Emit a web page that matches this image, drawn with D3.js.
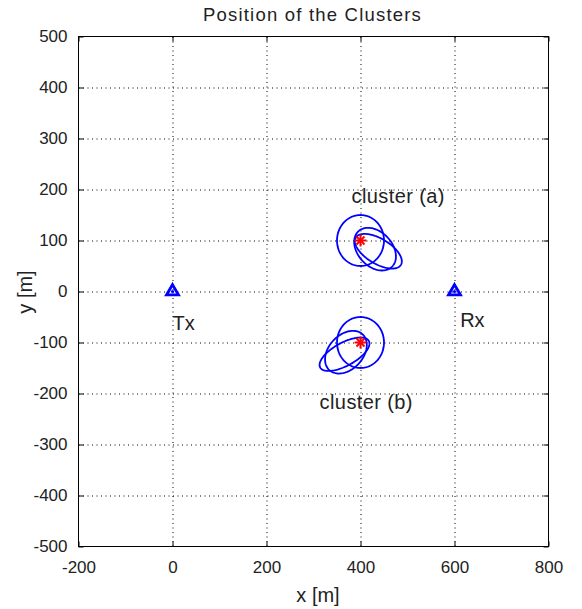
<!DOCTYPE html>
<html>
<head>
<meta charset="utf-8">
<script src="https://cdn.jsdelivr.net/npm/d3@7"></script>
<style>
  html, body { margin: 0; padding: 0; background: #ffffff; }
  svg { display: block; font-family: "Liberation Sans", Arial, sans-serif; }
</style>
</head>
<body>
<div id="chart"></div>
<script>
// ---------- data ----------
const xTicks = [-200, 0, 200, 400, 600, 800];
const yTicks = [500, 400, 300, 200, 100, 0, -100, -200, -300, -400, -500];
const xDomain = [-200, 800];
const yDomain = [-500, 500];

const stationNames = ["Tx", "Rx"];
const stationX = [0, 600];
const stationY = [0, 0];
const stationLabelX = [0, 612];
const stationLabelY = [-76, -69];

const clusterNames = ["cluster (a)", "cluster (b)"];
const clusterX = [400, 400];
const clusterY = [100, -100];
const clusterLabelX = [381, 313];
const clusterLabelY = [173, -230];

// ellipses: centre, semi-axes (data units), rotation (degrees)
const ellipseCx    = [400, 431, 438, 400, 369, 366];
const ellipseCy    = [100,  83,  79, -100, -119, -123];
const ellipseA     = [ 50,  50,  55,  50,  50,  58];
const ellipseB     = [ 50,  35,  25,  50,  35,  23];
const ellipseAngle = [  0, -40, -28,   0,  40,  26];

// ---------- layout ----------
const W = 582, H = 609;
const mLeft = 78.5, mRight = 548.5, mTop = 36.5, mBottom = 546.5;

const svg = d3.select("#chart").append("svg")
  .attr("width", W).attr("height", H);

const x = d3.scaleLinear().domain(xDomain).range([mLeft, mRight]);
const y = d3.scaleLinear().domain(yDomain).range([mBottom, mTop]);

const textColor = "#222";
const fmt = d => String(d);

// grid (dotted)
const gridX = svg.append("g")
  .attr("transform", `translate(0,${mBottom})`)
  .call(d3.axisBottom(x).tickValues(xTicks.slice(1, -1)).tickSize(-(mBottom - mTop)).tickFormat(""));
gridX.select(".domain").remove();
gridX.selectAll("line").attr("stroke", "#000").attr("stroke-dasharray", "1,3.5");

const gridY = svg.append("g")
  .attr("transform", `translate(${mLeft},0)`)
  .call(d3.axisLeft(y).tickValues(yTicks.slice(1, -1)).tickSize(-(mRight - mLeft)).tickFormat(""));
gridY.select(".domain").remove();
gridY.selectAll("line").attr("stroke", "#000").attr("stroke-dasharray", "1,3.5");

// axes with inner ticks
function styleAxis(g) {
  g.select(".domain").remove();
  g.selectAll("line").attr("stroke", "#000");
  g.selectAll("text").attr("fill", textColor).attr("font-size", 17)
    .attr("font-family", "Liberation Sans, Arial, sans-serif");
}
const axB = svg.append("g").attr("transform", `translate(0,${mBottom})`)
  .call(d3.axisBottom(x).tickValues(xTicks).tickFormat(fmt).tickSizeInner(-5).tickSizeOuter(0).tickPadding(14));
styleAxis(axB);
const axT = svg.append("g").attr("transform", `translate(0,${mTop})`)
  .call(d3.axisTop(x).tickValues(xTicks).tickSizeInner(-5).tickSizeOuter(0).tickFormat(""));
styleAxis(axT);
const axL = svg.append("g").attr("transform", `translate(${mLeft},0)`)
  .call(d3.axisLeft(y).tickValues(yTicks).tickFormat(fmt).tickSizeInner(-5).tickSizeOuter(0).tickPadding(11));
styleAxis(axL);
const axR = svg.append("g").attr("transform", `translate(${mRight},0)`)
  .call(d3.axisRight(y).tickValues(yTicks).tickSizeInner(-5).tickSizeOuter(0).tickFormat(""));
styleAxis(axR);

// frame
svg.append("rect")
  .attr("x", mLeft).attr("y", mTop)
  .attr("width", mRight - mLeft).attr("height", mBottom - mTop)
  .attr("fill", "none").attr("stroke", "#000").attr("stroke-width", 1);

// ellipses
const line = d3.line().x(d => x(d[0])).y(d => y(d[1]));
const thetas = d3.range(0, 361, 3).map(t => t * Math.PI / 180);
ellipseCx.forEach((cx, i) => {
  const a = ellipseA[i], b = ellipseB[i], r = ellipseAngle[i] * Math.PI / 180;
  const pts = thetas.map(t => [
    cx + a * Math.cos(t) * Math.cos(r) - b * Math.sin(t) * Math.sin(r),
    ellipseCy[i] + a * Math.cos(t) * Math.sin(r) + b * Math.sin(t) * Math.cos(r)
  ]);
  svg.append("path").attr("d", line(pts))
    .attr("fill", "none").attr("stroke", "#0000ff").attr("stroke-width", 1.8);
});

// red star markers at cluster centres
clusterX.forEach((cx, i) => {
  const px = x(cx), py = y(clusterY[i]);
  const g = svg.append("g").attr("stroke", "#ff0000").attr("stroke-width", 2);
  g.append("line").attr("x1", px - 6).attr("x2", px + 6).attr("y1", py).attr("y2", py);
  g.append("line").attr("x1", px).attr("x2", px).attr("y1", py - 6).attr("y2", py + 6);
  g.append("line").attr("x1", px - 4).attr("x2", px + 4).attr("y1", py - 4).attr("y2", py + 4);
  g.append("line").attr("x1", px - 4).attr("x2", px + 4).attr("y1", py + 4).attr("y2", py - 4);
});

// Tx / Rx triangles
stationX.forEach((sx, i) => {
  const px = x(sx), py = y(stationY[i]);
  svg.append("path")
    .attr("d", d3.symbol(d3.symbolTriangle).size(62)())
    .attr("transform", `translate(${px},${py})`)
    .attr("fill", "none").attr("stroke", "#0000ff").attr("stroke-width", 2.8);
  svg.append("circle").attr("cx", px).attr("cy", py).attr("r", 1.6).attr("fill", "#0000ff");
  svg.append("text").attr("x", x(stationLabelX[i])).attr("y", y(stationLabelY[i]))
    .attr("font-size", 20).attr("fill", textColor).text(stationNames[i]);
});

// cluster labels
clusterNames.forEach((n, i) => {
  svg.append("text").attr("x", x(clusterLabelX[i])).attr("y", y(clusterLabelY[i]))
    .attr("font-size", 20).attr("letter-spacing", 0.4).attr("fill", textColor).text(n);
});

// title
svg.append("text").attr("x", 312.5).attr("y", 21)
  .attr("text-anchor", "middle").attr("font-size", 18.5).attr("letter-spacing", 1.2)
  .attr("fill", textColor).text("Position of the Clusters");

// axis labels
svg.append("text").attr("x", 318).attr("y", 602)
  .attr("text-anchor", "middle").attr("font-size", 20).attr("fill", textColor).text("x [m]");
svg.append("text").attr("transform", `translate(32,292) rotate(-90)`)
  .attr("text-anchor", "middle").attr("font-size", 20).attr("fill", textColor).text("y [m]");
</script>
</body>
</html>
